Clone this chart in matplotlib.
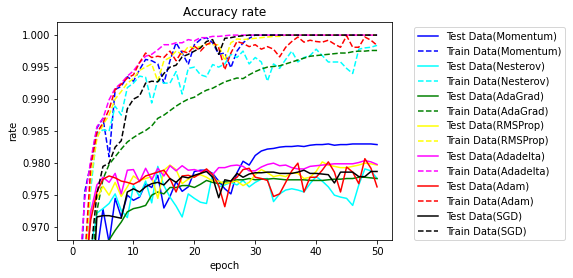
import numpy as np
import matplotlib
matplotlib.use("Agg")
import matplotlib.pyplot as plt

epochs = np.arange(51)

# test accuracy per epoch (values under 0.968 sit below the visible window)
test_momentum = [0.900, 0.930, 0.948, 0.958, 0.966, 0.9728, 0.9676, 0.9745, 0.9716, 0.9750,
                 0.9742, 0.9747, 0.9768, 0.9762, 0.9781, 0.9730, 0.9748, 0.9771, 0.9756, 0.9763,
                 0.9787, 0.9789, 0.9789, 0.9784, 0.9772, 0.9760, 0.9752, 0.9785, 0.9803, 0.9797,
                 0.9812, 0.9819, 0.9822, 0.9823, 0.9825, 0.9826, 0.9826, 0.9827, 0.9826, 0.9828,
                 0.9829, 0.9829, 0.9830, 0.9828, 0.9829, 0.9829, 0.9830, 0.9830, 0.9830, 0.9830, 0.9829]
test_nesterov = [0.920, 0.945, 0.958, 0.9665, 0.9722, 0.9729, 0.9737, 0.9752, 0.9726, 0.9715,
                 0.9765, 0.9748, 0.9772, 0.9738, 0.9795, 0.9765, 0.9747, 0.9733, 0.9716, 0.9752,
                 0.9745, 0.9739, 0.9737, 0.9784, 0.9763, 0.9766, 0.9770, 0.9766, 0.9773, 0.9763,
                 0.9770, 0.9775, 0.9776, 0.9740, 0.9752, 0.9758, 0.9760, 0.9758, 0.9755, 0.9768,
                 0.9779, 0.9772, 0.9763, 0.9750, 0.9747, 0.9745, 0.9734, 0.9766, 0.9791, 0.9788, 0.9776]
test_adagrad = [0.900, 0.920, 0.935, 0.948, 0.958, 0.9655, 0.9680, 0.9695, 0.9708, 0.9724,
                0.9729, 0.9731, 0.9734, 0.9750, 0.9755, 0.9752, 0.9762, 0.9762, 0.9765, 0.9765,
                0.9762, 0.9767, 0.9773, 0.9770, 0.9768, 0.9771, 0.9770, 0.9774, 0.9774, 0.9776,
                0.9774, 0.9775, 0.9775, 0.9776, 0.9775, 0.9774, 0.9774, 0.9774, 0.9774, 0.9773,
                0.9773, 0.9773, 0.9774, 0.9775, 0.9775, 0.9776, 0.9776, 0.9778, 0.9778, 0.9777, 0.9776]
test_rmsprop = [0.910, 0.935, 0.958, 0.9728, 0.9745, 0.9764, 0.9750, 0.9770, 0.9748, 0.9763,
                0.9780, 0.9773, 0.9776, 0.9779, 0.9745, 0.9789, 0.9797, 0.9790, 0.9768, 0.9775,
                0.9780, 0.9782, 0.9778, 0.9772, 0.9772, 0.9768, 0.9770, 0.9772, 0.9765, 0.9770,
                0.9782, 0.9790, 0.9785, 0.9779, 0.9781, 0.9779, 0.9785, 0.9784, 0.9776, 0.9778,
                0.9787, 0.9802, 0.9797, 0.9795, 0.9793, 0.9793, 0.9795, 0.9797, 0.9800, 0.9799, 0.9797]
test_adadelta = [0.900, 0.935, 0.960, 0.9724, 0.9766, 0.9778, 0.9770, 0.9784, 0.9752, 0.9789,
                 0.9790, 0.9771, 0.9792, 0.9774, 0.9792, 0.9780, 0.9796, 0.9788, 0.9796, 0.9789,
                 0.9790, 0.9787, 0.9789, 0.9782, 0.9793, 0.9793, 0.9796, 0.9797, 0.9795, 0.9788,
                 0.9788, 0.9794, 0.9798, 0.9800, 0.9796, 0.9797, 0.9793, 0.9791, 0.9791, 0.9795,
                 0.9796, 0.9797, 0.9798, 0.9799, 0.9799, 0.9799, 0.9799, 0.9801, 0.9804, 0.9802, 0.9798]
test_adam = [0.900, 0.940, 0.962, 0.9712, 0.9755, 0.9775, 0.9780, 0.9777, 0.9772, 0.9770,
             0.9767, 0.9772, 0.9780, 0.9783, 0.9786, 0.9789, 0.9776, 0.9755, 0.9780, 0.9781,
             0.9778, 0.9784, 0.9791, 0.9782, 0.9765, 0.9732, 0.9772, 0.9778, 0.9790, 0.9792,
             0.9778, 0.9776, 0.9773, 0.9748, 0.9752, 0.9770, 0.9788, 0.9800, 0.9755, 0.9778,
             0.9778, 0.9789, 0.9802, 0.9786, 0.9755, 0.9794, 0.9786, 0.9768, 0.9807, 0.9792, 0.9763]
test_sgd = [0.880, 0.910, 0.935, 0.955, 0.9716, 0.9718, 0.9718, 0.9716, 0.9714, 0.9755,
            0.9760, 0.9755, 0.9763, 0.9768, 0.9770, 0.9766, 0.9776, 0.9770, 0.9779, 0.9777,
            0.9781, 0.9784, 0.9787, 0.9778, 0.9746, 0.9774, 0.9772, 0.9784, 0.9778, 0.9783,
            0.9785, 0.9785, 0.9786, 0.9786, 0.9784, 0.9784, 0.9784, 0.9786, 0.9789, 0.9784,
            0.9784, 0.9783, 0.9782, 0.9769, 0.9786, 0.9786, 0.9786, 0.9779, 0.9779, 0.9787, 0.9787]

# train accuracy per epoch
train_momentum = [0.900, 0.955, 0.9755, 0.9800, 0.9855, 0.9870, 0.9810, 0.9915, 0.9920, 0.9935,
                  0.9928, 0.9946, 0.9962, 0.9960, 0.9955, 0.9925, 0.9960, 0.9988, 0.9972, 0.9954,
                  0.9985, 0.9993, 0.9996, 0.9988, 0.9970, 0.9972, 0.9949, 0.9975, 0.9988, 0.9995,
                  1.0, 1.0, 1.0, 1.0, 1.0, 1.0, 1.0, 1.0, 1.0, 1.0,
                  1.0, 1.0, 1.0, 1.0, 1.0, 1.0, 1.0, 1.0, 1.0, 1.0, 1.0]
train_nesterov = [0.900, 0.940, 0.962, 0.976, 0.9845, 0.9852, 0.9850, 0.9889, 0.9875, 0.9918,
                  0.9925, 0.9936, 0.9934, 0.9894, 0.9930, 0.9925, 0.9925, 0.9943, 0.9908, 0.9948,
                  0.9950, 0.9938, 0.9935, 0.9954, 0.9950, 0.9955, 0.9970, 0.9965, 0.9975, 0.9955,
                  0.9965, 0.9958, 0.9928, 0.9955, 0.9948, 0.9962, 0.9975, 0.9958, 0.9965, 0.9968,
                  0.9978, 0.9968, 0.9958, 0.9958, 0.9958, 0.9948, 0.9940, 0.9978, 0.9980, 0.9981, 0.9984]
train_adagrad = [0.880, 0.920, 0.945, 0.962, 0.9725, 0.9775, 0.9798, 0.9810, 0.9822, 0.9833,
                 0.9840, 0.9846, 0.9851, 0.9858, 0.9870, 0.9875, 0.9882, 0.9889, 0.9895, 0.9900,
                 0.9903, 0.9909, 0.9914, 0.9917, 0.9922, 0.9927, 0.9930, 0.9933, 0.9932, 0.9938,
                 0.9943, 0.9947, 0.9950, 0.9951, 0.9952, 0.9955, 0.9958, 0.9961, 0.9964, 0.9967,
                 0.9968, 0.9969, 0.9970, 0.9971, 0.9972, 0.9972, 0.9974, 0.9975, 0.9975, 0.9976, 0.9976]
train_rmsprop = [0.900, 0.940, 0.962, 0.9775, 0.9838, 0.9860, 0.9875, 0.9900, 0.9912, 0.9925,
                 0.9932, 0.9945, 0.9950, 0.9955, 0.9928, 0.9960, 0.9965, 0.9975, 0.9970, 0.9982,
                 0.9980, 0.9982, 0.9986, 0.9985, 0.9985, 0.9960, 0.9988, 0.9994, 0.9993, 0.9994,
                 0.9995, 0.9996, 0.9997, 0.9998, 0.9998, 1.0, 1.0, 1.0, 1.0, 1.0,
                 1.0, 1.0, 1.0, 1.0, 1.0, 1.0, 1.0, 1.0, 1.0, 1.0, 1.0]
train_adadelta = [0.900, 0.9617, 0.9743, 0.9805, 0.9857, 0.9870, 0.9899, 0.9917, 0.9925, 0.9936,
                  0.9944, 0.9957, 0.9967, 0.9970, 0.9977, 0.9985, 0.9985, 0.9988, 0.9988, 0.9993,
                  0.9991, 0.9996, 0.9996, 0.9998, 0.9998, 0.9999, 1.0, 1.0, 1.0, 1.0,
                  1.0, 1.0, 1.0, 1.0, 1.0, 1.0, 1.0, 1.0, 1.0, 1.0,
                  1.0, 1.0, 1.0, 1.0, 1.0, 1.0, 1.0, 1.0, 1.0, 1.0, 1.0]
train_adam = [0.900, 0.945, 0.965, 0.9795, 0.9847, 0.9863, 0.9884, 0.9915, 0.9923, 0.9933,
              0.9938, 0.9957, 0.9972, 0.9965, 0.9967, 0.9965, 0.9975, 0.9960, 0.9975, 0.9972,
              0.9983, 0.9975, 0.9985, 0.9990, 0.9980, 0.9946, 0.9972, 0.9990, 0.9987, 0.9982,
              0.9985, 0.9978, 0.9982, 0.9978, 0.9966, 0.9981, 0.9990, 0.9997, 0.9989, 0.9992,
              0.9990, 0.9989, 0.9992, 0.9986, 0.9981, 0.9999, 0.9981, 0.9981, 0.9997, 0.9992, 0.9984]
train_sgd = [0.880, 0.920, 0.945, 0.966, 0.9752, 0.9795, 0.9800, 0.9825, 0.9835, 0.9885,
             0.9900, 0.9905, 0.9925, 0.9928, 0.9927, 0.9940, 0.9950, 0.9953, 0.9966, 0.9970,
             0.9975, 0.9980, 0.9990, 0.9993, 0.9970, 0.9995, 0.9996, 0.9998, 0.9999, 1.0,
             1.0, 1.0, 1.0, 1.0, 1.0, 1.0, 1.0, 1.0, 1.0, 1.0,
             1.0, 1.0, 1.0, 1.0, 1.0, 1.0, 1.0, 1.0, 1.0, 1.0, 1.0]

names = ['Momentum', 'Nesterov', 'AdaGrad', 'RMSProp', 'Adadelta', 'Adam', 'SGD']
colors = ['b', 'cyan', 'g', 'yellow', 'magenta', 'r', 'k']
tests = [test_momentum, test_nesterov, test_adagrad, test_rmsprop, test_adadelta, test_adam, test_sgd]
trains = [train_momentum, train_nesterov, train_adagrad, train_rmsprop, train_adadelta, train_adam, train_sgd]

# reference looks like a 72 dpi notebook render
fig = plt.figure(figsize=(573 / 72, 278 / 72), dpi=72)
ax = fig.add_subplot(111)
fig.subplots_adjust(left=0.1, right=0.6846, bottom=0.1367, top=0.9198)

for name, c, te, tr in zip(names, colors, tests, trains):
    ax.plot(epochs, te, color=c, linestyle='-', label='Test Data(%s)' % name)
    ax.plot(epochs, tr, color=c, linestyle='--', label='Train Data(%s)' % name)

ax.set_ylim(0.968, 1.002)
ax.set_title('Accuracy rate')
ax.set_xlabel('epoch')
ax.set_ylabel('rate')
ax.legend(bbox_to_anchor=(1.05, 1), loc='upper left')

fig.savefig('out.png', dpi=72)
